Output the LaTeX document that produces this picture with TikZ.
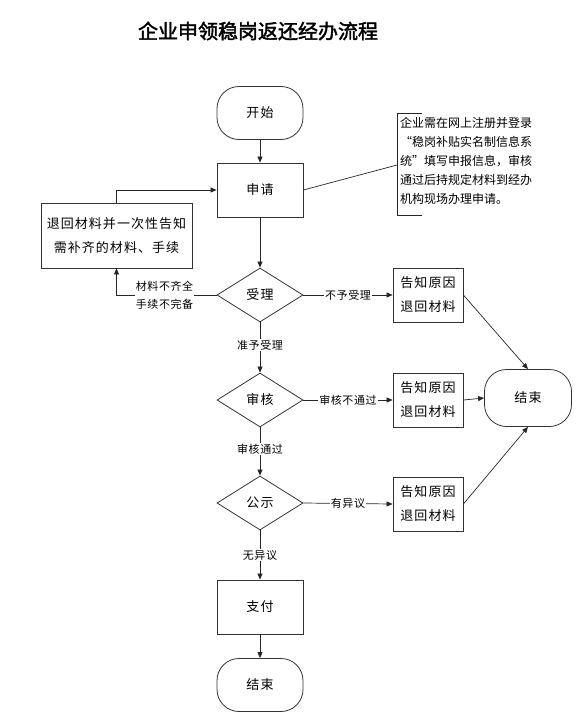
\documentclass[tikz,border=0pt]{standalone}
\usepackage{fontspec}
\usetikzlibrary{arrows.meta,shapes.geometric}
\newfontfamily\cjk[LetterSpace=8]{Noto Sans CJK SC}
\newfontfamily\cjklab[LetterSpace=5]{Noto Sans CJK SC}
\newfontfamily\cjknote{Noto Sans CJK SC}
\newfontfamily\cjktitle[FakeBold=2]{Noto Sans CJK SC}
\tikzset{
  base/.style={draw=black!80, line width=0.8pt, font=\cjk\fontsize{13}{17}\selectfont, align=center, inner sep=1pt},
  term/.style={base, rounded corners=22pt, minimum width=86pt, minimum height=53pt},
  box/.style={base, minimum width=86pt, minimum height=54pt},
  smallbox/.style={base, minimum width=70pt, minimum height=54pt},
  dia/.style={base, diamond, aspect=1.6, minimum width=86pt, minimum height=54pt, inner sep=0pt},
  lab/.style={fill=white, font=\cjklab\fontsize{11}{18}\selectfont, inner sep=1pt, align=center},
  conn/.style={draw=black!85, line width=0.7pt},
  arr/.style={conn, -{Triangle[length=6pt,width=5pt]}}
}
\begin{document}
\begin{tikzpicture}[x=1pt,y=-1pt]
\useasboundingbox (0,0) rectangle (577,720);
\node[font=\cjktitle\fontsize{20}{24}\selectfont] (title) at (258,31) {企业申领稳岗返还经办流程};

\node[term] (start) at (260,113) {开始};
\node[box] (apply) at (260,190) {申请};
\node[base, minimum width=151pt, minimum height=65pt, font=\cjk\fontsize{13}{24}\selectfont] (ret) at (116.5,235.5) {退回材料并一次性告知\\需补齐的材料、手续};
\node[dia] (accept) at (260,295) {受理};
\node[dia] (review) at (260,400) {审核};
\node[dia] (pub) at (260,503) {公示};
\node[box] (pay) at (260,607) {支付};
\node[term] (end2) at (260,685) {结束};
\node[smallbox, font=\cjk\fontsize{13}{24}\selectfont] (r1) at (428,295) {告知原因\\退回材料};
\node[smallbox, font=\cjk\fontsize{13}{24}\selectfont] (r2) at (428,400) {告知原因\\退回材料};
\node[smallbox, font=\cjk\fontsize{13}{24}\selectfont] (r3) at (428,504) {告知原因\\退回材料};
\node[term, minimum width=87pt, minimum height=57pt] (end1) at (528,398) {结束};

% annotation
\coordinate (bt) at (422,113);
\coordinate (btl) at (397,113);
\coordinate (bbl) at (397,215);
\coordinate (bb) at (422,215);
\coordinate (bm) at (397,165);
\draw[conn] (bt) -- (btl) -- (bbl) -- (bb);
\node[anchor=north west, align=left, inner sep=0pt, font=\cjknote\fontsize{12}{19}\selectfont] (note) at (400,117)
  {企业需在网上注册并登录\\“稳岗补贴实名制信息系\\统”填写申报信息，审核\\通过后持规定材料到经办\\机构现场办理申请。};
\draw[conn] (apply.east) -- (bm);

% main flow
\draw[arr] (start) -- (apply);
\draw[arr] (apply) -- (accept);
\draw[arr] (accept) -- node[lab, pos=0.45] {准予受理} (review);
\draw[arr] (review) -- node[lab, pos=0.45] {审核通过} (pub);
\draw[arr] (pub) -- node[lab, pos=0.5] {无异议} (pay);
\draw[arr] (pay) -- (end2);

% side branches
\draw[arr] (accept.east) -- node[lab] {不予受理} (r1.west);
\draw[arr] (review.east) -- node[lab] {审核不通过} (r2.west);
\draw[arr] (pub.east) -- node[lab] {有异议} (r3.west);
\draw[arr] (r1.east) -- (end1.north);
\draw[arr] (r2.east) -- (end1.west);
\draw[arr] (r3.east) -- (end1.south);

% loop back
\draw[arr] (accept.west) -| node[lab, pos=0.26] {材料不齐全\\手续不完备} (ret.south);
\draw[arr] (ret.north) |- (apply.west);
\end{tikzpicture}
\end{document}
